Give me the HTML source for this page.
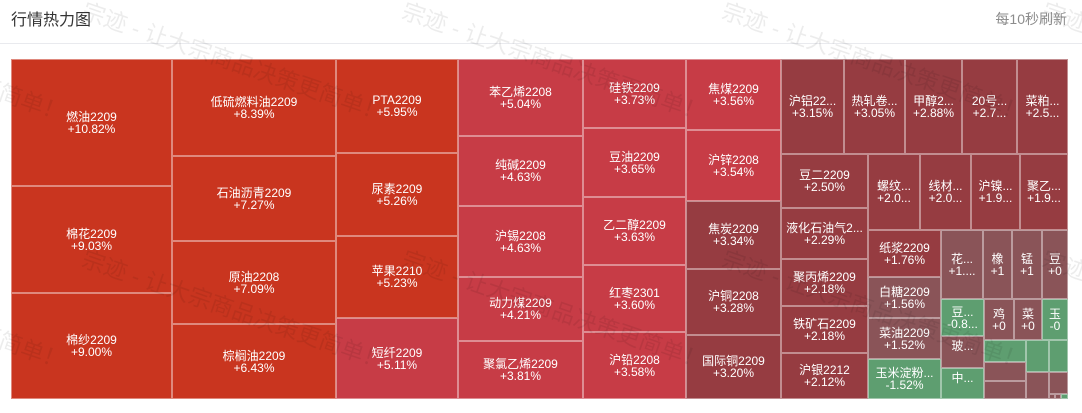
<!DOCTYPE html>
<html>
<head>
<meta charset="utf-8">
<style>
  html, body { margin:0; padding:0; background:#fff; }
  body { width:1082px; height:413px; position:relative; overflow:hidden;
         font-family:"Liberation Sans","Noto Sans CJK SC",sans-serif; }
  .title { position:absolute; left:11px; top:12px; height:18px; line-height:18px;
           font-size:16px; color:#333; white-space:nowrap; }
  .refresh { position:absolute; right:15px; top:10px; height:18px; line-height:18px;
             font-size:14px; color:#8c8c8c; white-space:nowrap; }
  .sep { position:absolute; left:0; top:43px; width:1082px; height:1px; background:#e9eaee; }
  .tm { position:absolute; left:11px; top:59px; width:1057px; height:340px; }
  .c { position:absolute; box-sizing:border-box;
       box-shadow: inset 0 0 0 1px rgba(255,255,255,0.42);
       display:flex; flex-direction:column; align-items:center; justify-content:center;
       color:#fff; font-size:12px; line-height:12px; text-align:center; white-space:nowrap; overflow:hidden; }
  .c span { display:block; }
  .o { background:#c9351f; }
  .p { background:#c73c46; }
  .d { background:#963c41; }
  .m { background:#8a5458; }
  .g { background:#5e9e70; }
  .one { padding-bottom:12px; }
  .wm { position:absolute; font-size:23px; color:rgba(0,0,0,0.075); white-space:nowrap;
        transform-origin:0 50%; transform:rotate(19deg); pointer-events:none; line-height:24px; }
</style>
</head>
<body>
<div class="title">行情热力图</div>
<div class="refresh">每10秒刷新</div>
<div class="sep"></div>

<div class="tm">
  <!-- Col1 -->
  <div class="c o" style="left:0;top:0;width:161px;height:127px"><span>燃油2209</span><span>+10.82%</span></div>
  <div class="c o" style="left:0;top:127px;width:161px;height:107px"><span>棉花2209</span><span>+9.03%</span></div>
  <div class="c o" style="left:0;top:234px;width:161px;height:106px"><span>棉纱2209</span><span>+9.00%</span></div>
  <!-- Col2 -->
  <div class="c o" style="left:161px;top:0;width:164px;height:97px"><span>低硫燃料油2209</span><span>+8.39%</span></div>
  <div class="c o" style="left:161px;top:97px;width:164px;height:85px"><span>石油沥青2209</span><span>+7.27%</span></div>
  <div class="c o" style="left:161px;top:182px;width:164px;height:83px"><span>原油2208</span><span>+7.09%</span></div>
  <div class="c o" style="left:161px;top:265px;width:164px;height:75px"><span>棕榈油2209</span><span>+6.43%</span></div>
  <!-- Col3 -->
  <div class="c o" style="left:325px;top:0;width:122px;height:94px"><span>PTA2209</span><span>+5.95%</span></div>
  <div class="c o" style="left:325px;top:94px;width:122px;height:83px"><span>尿素2209</span><span>+5.26%</span></div>
  <div class="c o" style="left:325px;top:177px;width:122px;height:82px"><span>苹果2210</span><span>+5.23%</span></div>
  <div class="c p" style="left:325px;top:259px;width:122px;height:81px"><span>短纤2209</span><span>+5.11%</span></div>
  <!-- Col4 -->
  <div class="c p" style="left:447px;top:0;width:125px;height:77px"><span>苯乙烯2208</span><span>+5.04%</span></div>
  <div class="c p" style="left:447px;top:77px;width:125px;height:70px"><span>纯碱2209</span><span>+4.63%</span></div>
  <div class="c p" style="left:447px;top:147px;width:125px;height:71px"><span>沪锡2208</span><span>+4.63%</span></div>
  <div class="c p" style="left:447px;top:218px;width:125px;height:64px"><span>动力煤2209</span><span>+4.21%</span></div>
  <div class="c p" style="left:447px;top:282px;width:125px;height:58px"><span>聚氯乙烯2209</span><span>+3.81%</span></div>
  <!-- Col5 -->
  <div class="c p" style="left:572px;top:0;width:103px;height:69px"><span>硅铁2209</span><span>+3.73%</span></div>
  <div class="c p" style="left:572px;top:69px;width:103px;height:69px"><span>豆油2209</span><span>+3.65%</span></div>
  <div class="c p" style="left:572px;top:138px;width:103px;height:68px"><span>乙二醇2209</span><span>+3.63%</span></div>
  <div class="c p" style="left:572px;top:206px;width:103px;height:67px"><span>红枣2301</span><span>+3.60%</span></div>
  <div class="c p" style="left:572px;top:273px;width:103px;height:67px"><span>沪铅2208</span><span>+3.58%</span></div>
  <!-- Col6 -->
  <div class="c p" style="left:675px;top:0;width:95px;height:71px"><span>焦煤2209</span><span>+3.56%</span></div>
  <div class="c p" style="left:675px;top:71px;width:95px;height:71px"><span>沪锌2208</span><span>+3.54%</span></div>
  <div class="c d" style="left:675px;top:142px;width:95px;height:68px"><span>焦炭2209</span><span>+3.34%</span></div>
  <div class="c d" style="left:675px;top:210px;width:95px;height:66px"><span>沪铜2208</span><span>+3.28%</span></div>
  <div class="c d" style="left:675px;top:276px;width:95px;height:64px"><span>国际铜2209</span><span>+3.20%</span></div>
  <!-- Right top row -->
  <div class="c d" style="left:770px;top:0;width:63px;height:95px"><span>沪铝22...</span><span>+3.15%</span></div>
  <div class="c d" style="left:833px;top:0;width:61px;height:95px"><span>热轧卷...</span><span>+3.05%</span></div>
  <div class="c d" style="left:894px;top:0;width:57px;height:95px"><span>甲醇2...</span><span>+2.88%</span></div>
  <div class="c d" style="left:951px;top:0;width:55px;height:95px"><span>20号...</span><span>+2.7...</span></div>
  <div class="c d" style="left:1006px;top:0;width:51px;height:95px"><span>菜粕...</span><span>+2.5...</span></div>
  <!-- Right left col -->
  <div class="c d" style="left:770px;top:95px;width:87px;height:54px"><span>豆二2209</span><span>+2.50%</span></div>
  <div class="c d" style="left:770px;top:149px;width:87px;height:51px"><span>液化石油气2...</span><span>+2.29%</span></div>
  <div class="c d" style="left:770px;top:200px;width:87px;height:47px"><span>聚丙烯2209</span><span>+2.18%</span></div>
  <div class="c d" style="left:770px;top:247px;width:87px;height:47px"><span>铁矿石2209</span><span>+2.18%</span></div>
  <div class="c d" style="left:770px;top:294px;width:87px;height:46px"><span>沪银2212</span><span>+2.12%</span></div>
  <!-- Row 螺纹 -->
  <div class="c d" style="left:857px;top:95px;width:52px;height:76px"><span>螺纹...</span><span>+2.0...</span></div>
  <div class="c d" style="left:909px;top:95px;width:51px;height:76px"><span>线材...</span><span>+2.0...</span></div>
  <div class="c d" style="left:960px;top:95px;width:49px;height:76px"><span>沪镍...</span><span>+1.9...</span></div>
  <div class="c d" style="left:1009px;top:95px;width:48px;height:76px"><span>聚乙...</span><span>+1.9...</span></div>
  <!-- Col 纸浆 -->
  <div class="c d" style="left:857px;top:171px;width:73px;height:47px"><span>纸浆2209</span><span>+1.76%</span></div>
  <div class="c m" style="left:857px;top:218px;width:73px;height:41px"><span>白糖2209</span><span>+1.56%</span></div>
  <div class="c m" style="left:857px;top:259px;width:73px;height:41px"><span>菜油2209</span><span>+1.52%</span></div>
  <div class="c g" style="left:857px;top:300px;width:73px;height:40px"><span>玉米淀粉...</span><span>-1.52%</span></div>
  <!-- Row 花 -->
  <div class="c m" style="left:930px;top:171px;width:42px;height:69px"><span>花...</span><span>+1....</span></div>
  <div class="c m" style="left:972px;top:171px;width:29px;height:69px"><span>橡</span><span>+1</span></div>
  <div class="c m" style="left:1001px;top:171px;width:30px;height:69px"><span>锰</span><span>+1</span></div>
  <div class="c m" style="left:1031px;top:171px;width:26px;height:69px"><span>豆</span><span>+0</span></div>
  <!-- Col 豆/玻/中 -->
  <div class="c g" style="left:930px;top:240px;width:43px;height:37px"><span>豆...</span><span>-0.8...</span></div>
  <div class="c m one" style="left:930px;top:277px;width:43px;height:32px"><span>玻...</span></div>
  <div class="c g one" style="left:930px;top:309px;width:43px;height:31px"><span>中...</span></div>
  <!-- Row 鸡 -->
  <div class="c m" style="left:973px;top:240px;width:30px;height:41px"><span>鸡</span><span>+0</span></div>
  <div class="c m" style="left:1003px;top:240px;width:28px;height:41px"><span>菜</span><span>+0</span></div>
  <div class="c g" style="left:1031px;top:240px;width:26px;height:41px"><span>玉</span><span>-0</span></div>
  <!-- small boxes -->
  <div class="c g" style="left:973px;top:281px;width:42px;height:22px"></div>
  <div class="c m" style="left:973px;top:303px;width:42px;height:19px"></div>
  <div class="c m" style="left:973px;top:322px;width:42px;height:18px"></div>
  <div class="c g" style="left:1015px;top:281px;width:23px;height:32px"></div>
  <div class="c g" style="left:1038px;top:281px;width:19px;height:32px"></div>
  <div class="c m" style="left:1015px;top:313px;width:23px;height:27px"></div>
  <div class="c m" style="left:1038px;top:313px;width:19px;height:22px"></div>
  <div class="c m" style="left:1038px;top:335px;width:6px;height:5px"></div>
  <div class="c m" style="left:1044px;top:335px;width:6px;height:5px"></div>
  <div class="c g" style="left:1050px;top:335px;width:7px;height:5px"></div>
</div>

<!-- watermarks -->
<div class="wm" style="left:-237px;top:-2px">宗迹 - 让大宗商品决策更简单！</div>
<div class="wm" style="left:83px;top:-2px">宗迹 - 让大宗商品决策更简单！</div>
<div class="wm" style="left:403px;top:-2px">宗迹 - 让大宗商品决策更简单！</div>
<div class="wm" style="left:723px;top:-2px">宗迹 - 让大宗商品决策更简单！</div>
<div class="wm" style="left:1043px;top:-2px">宗迹 - 让大宗商品决策更简单！</div>
<div class="wm" style="left:-237px;top:246px">宗迹 - 让大宗商品决策更简单！</div>
<div class="wm" style="left:83px;top:246px">宗迹 - 让大宗商品决策更简单！</div>
<div class="wm" style="left:403px;top:246px">宗迹 - 让大宗商品决策更简单！</div>
<div class="wm" style="left:723px;top:246px">宗迹 - 让大宗商品决策更简单！</div>
<div class="wm" style="left:1043px;top:246px">宗迹 - 让大宗商品决策更简单！</div>
</body>
</html>
